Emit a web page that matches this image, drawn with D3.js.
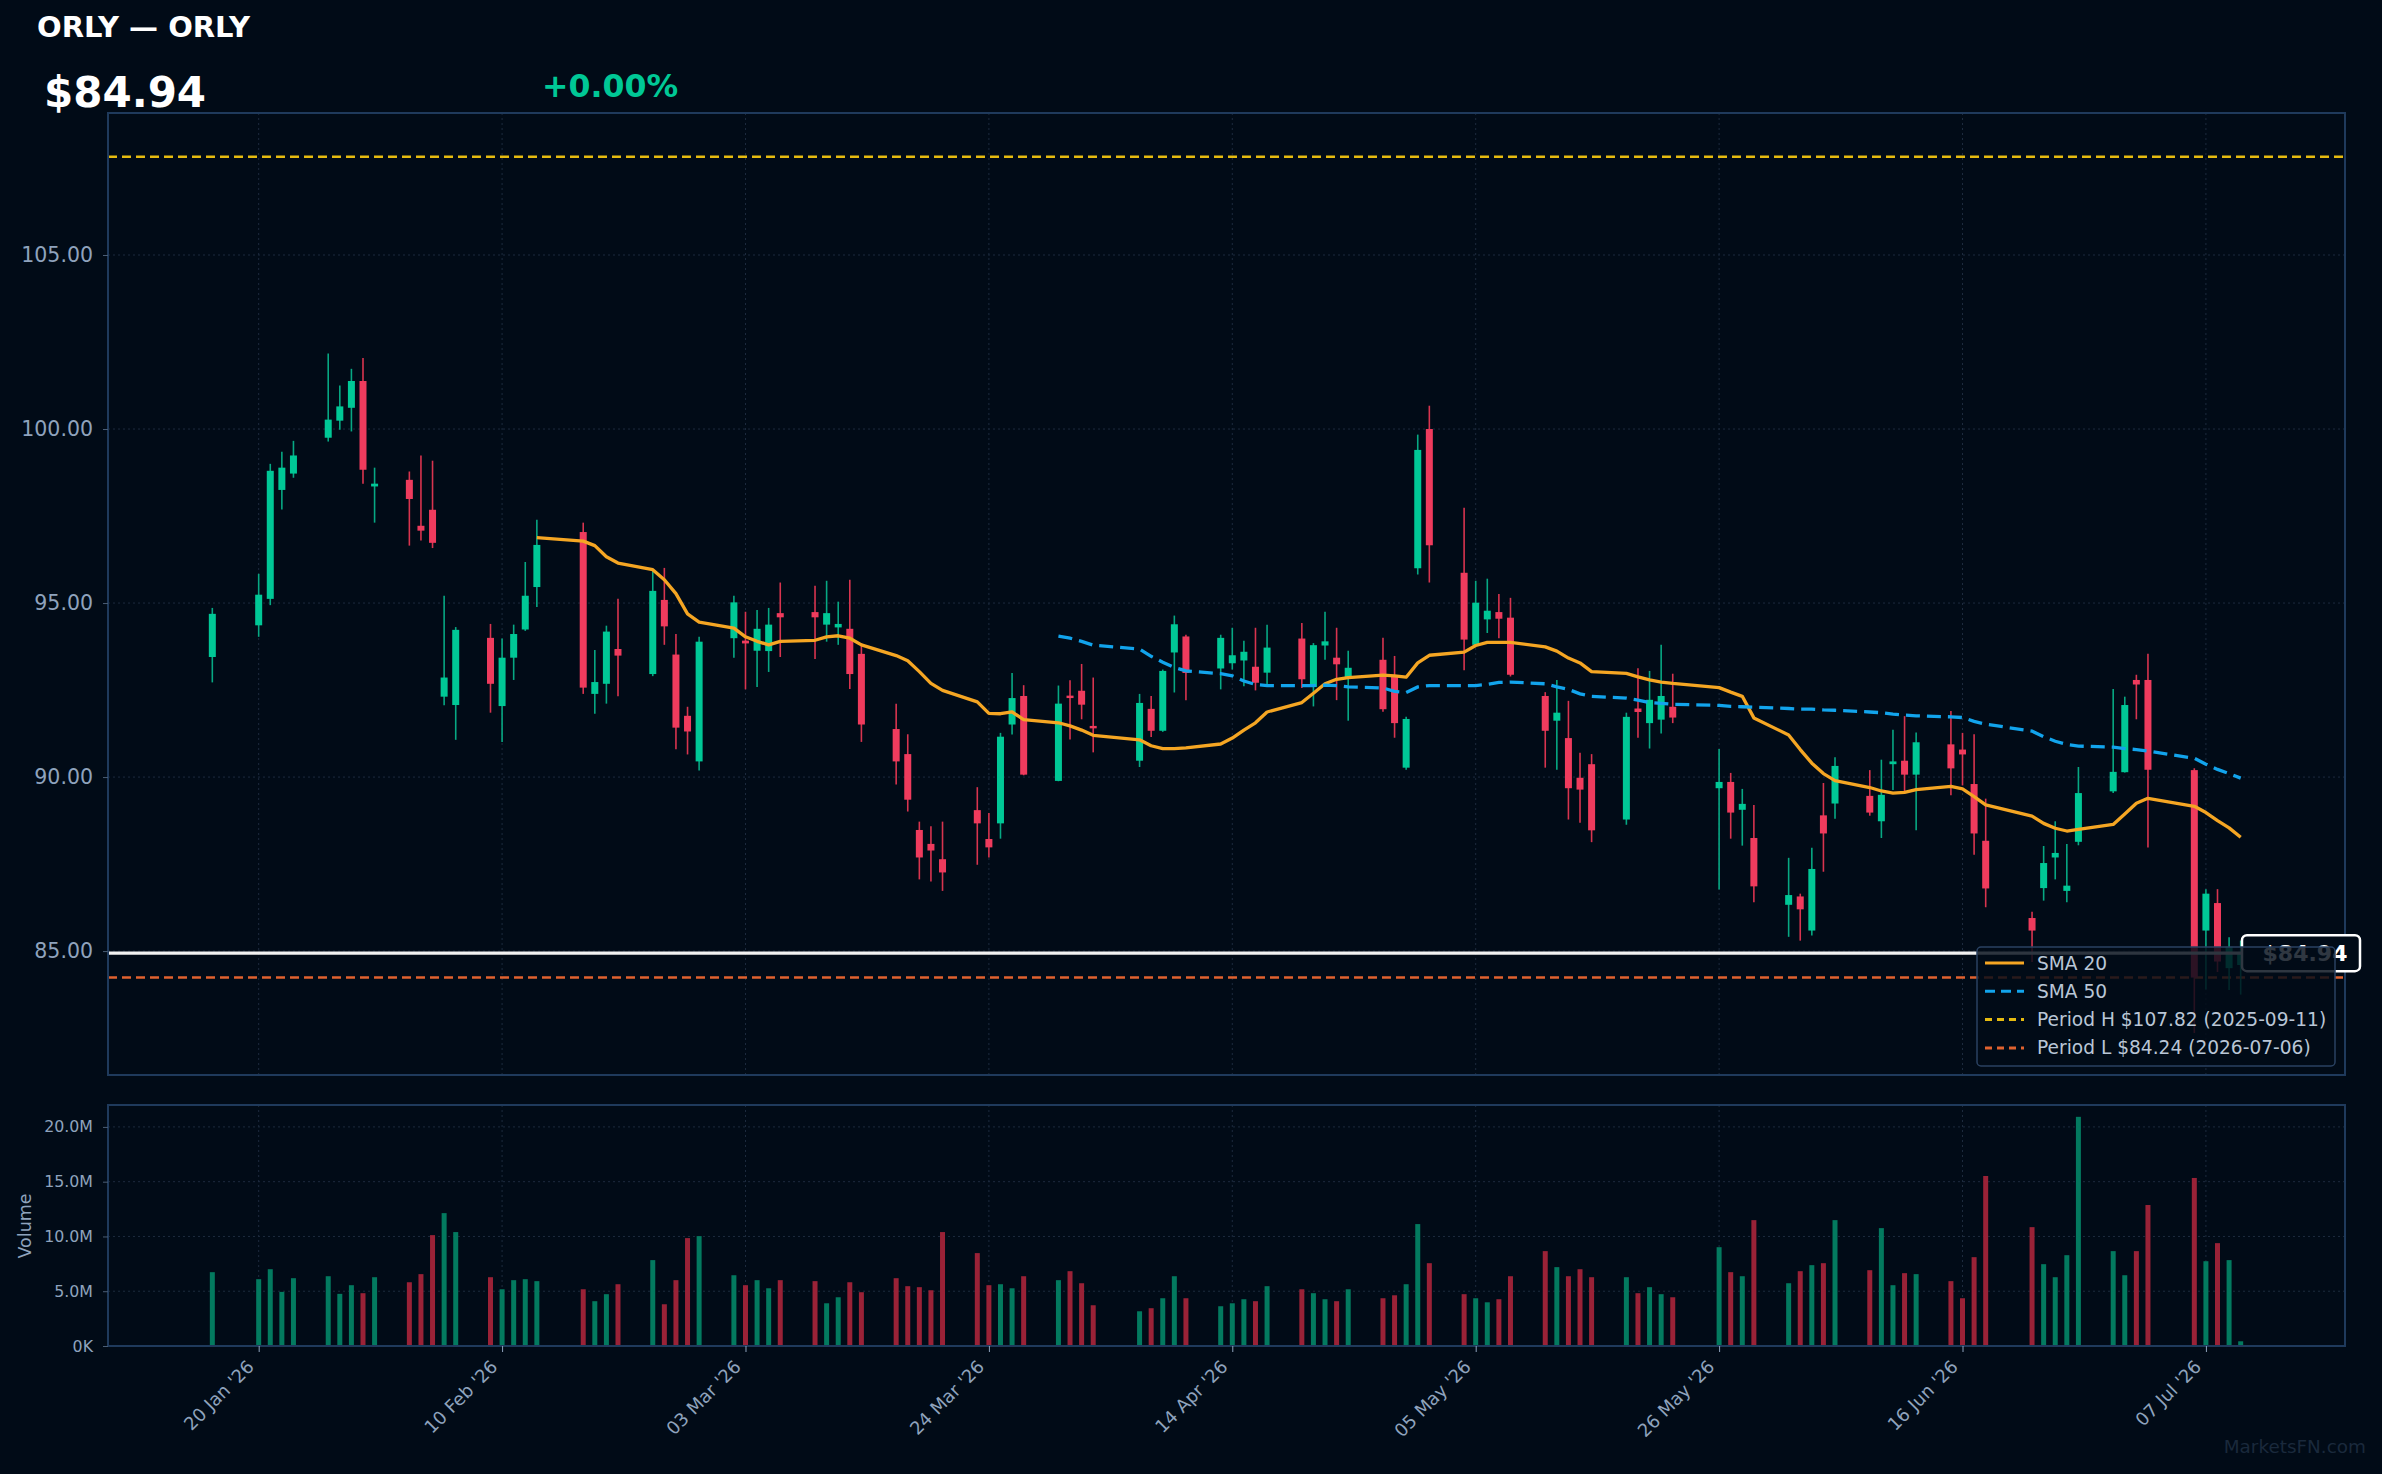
<!DOCTYPE html>
<html>
<head>
<meta charset="utf-8">
<script src="https://cdn.jsdelivr.net/npm/d3@7"></script>
<style>
  html, body { margin: 0; padding: 0; background: #010b17; }
  svg { display: block; font-family: "DejaVu Sans", sans-serif; }
</style>
</head>
<body>
<div class="chart"></div>
<script>
// ORLY daily candles, Jan 16 - Jul 10 2026

var dates = [
  "2026-01-16","2026-01-20","2026-01-21","2026-01-22","2026-01-23","2026-01-26","2026-01-27","2026-01-28","2026-01-29","2026-01-30",
  "2026-02-02","2026-02-03","2026-02-04","2026-02-05","2026-02-06","2026-02-09","2026-02-10","2026-02-11","2026-02-12","2026-02-13",
  "2026-02-17","2026-02-18","2026-02-19","2026-02-20","2026-02-23","2026-02-24","2026-02-25","2026-02-26","2026-02-27",
  "2026-03-02","2026-03-03","2026-03-04","2026-03-05","2026-03-06","2026-03-09","2026-03-10","2026-03-11","2026-03-12","2026-03-13",
  "2026-03-16","2026-03-17","2026-03-18","2026-03-19","2026-03-20","2026-03-23","2026-03-24","2026-03-25","2026-03-26","2026-03-27",
  "2026-03-30","2026-03-31",
  "2026-04-01","2026-04-02","2026-04-06","2026-04-07","2026-04-08","2026-04-09","2026-04-10","2026-04-13","2026-04-14","2026-04-15",
  "2026-04-16","2026-04-17","2026-04-20","2026-04-21","2026-04-22","2026-04-23","2026-04-24","2026-04-27","2026-04-28","2026-04-29","2026-04-30",
  "2026-05-01","2026-05-04","2026-05-05","2026-05-06","2026-05-07","2026-05-08","2026-05-11","2026-05-12","2026-05-13","2026-05-14",
  "2026-05-15","2026-05-18","2026-05-19","2026-05-20","2026-05-21","2026-05-22","2026-05-26","2026-05-27","2026-05-28","2026-05-29",
  "2026-06-01","2026-06-02","2026-06-03","2026-06-04","2026-06-05","2026-06-08","2026-06-09","2026-06-10","2026-06-11","2026-06-12",
  "2026-06-15","2026-06-16","2026-06-17","2026-06-18","2026-06-22","2026-06-23","2026-06-24","2026-06-25","2026-06-26","2026-06-29","2026-06-30",
  "2026-07-01","2026-07-02","2026-07-06","2026-07-07","2026-07-08","2026-07-09","2026-07-10"
];

var opens = [
  93.45, 94.36, 95.12, 98.25, 98.72, 99.75, 100.24, 100.61, 101.38, 98.35,
  98.54, 97.22, 97.68, 92.31, 92.07, 94.00, 92.04, 93.43, 94.24, 95.46, 97.04, 92.39, 92.68, 93.68, 92.96, 95.09, 93.52, 91.76, 90.45,
  93.99, 93.92, 93.63, 93.62, 94.71, 94.74, 94.38, 94.30, 94.26, 93.54, 91.38, 90.66, 88.48, 88.08, 87.64, 89.05, 88.22, 88.67, 91.51, 92.33, 89.89, 92.34,
  92.48, 91.47, 90.47, 91.96, 91.33, 93.58, 94.04, 93.12, 93.27, 93.35, 93.17, 93.00, 93.98, 92.59, 93.78, 93.43, 92.84, 93.37, 92.91, 90.27, 96.00,
  100.00, 95.87, 93.80, 94.53, 94.74, 94.58, 92.33, 91.62, 91.12, 89.98, 90.37, 88.78, 91.97, 91.55, 91.65, 92.02, 89.68, 89.86, 89.06, 88.25,
  86.33, 86.57, 85.59, 88.90, 89.24, 89.46, 88.73, 90.37, 90.47, 90.07, 90.94, 90.79, 89.80, 88.17, 85.95, 86.81, 87.69, 86.73, 88.14, 89.59, 90.14,
  92.79, 92.79, 90.20, 85.59, 86.38, 84.51, 84.60
];

var highs = [
  94.86, 95.84, 99.00, 99.35, 99.66, 102.17, 101.25, 101.73, 102.04, 98.89,
  98.78, 99.24, 99.09, 95.21, 94.31, 94.40, 93.98, 94.38, 96.18, 97.39, 97.31, 93.65, 94.35, 95.12, 95.92, 96.01, 94.11, 92.02, 94.03,
  95.21, 94.75, 94.80, 94.86, 95.59, 95.50, 95.64, 95.04, 95.67, 93.84, 92.11, 91.23, 88.72, 88.59, 88.72, 89.71, 88.97, 91.27, 92.99, 92.64, 92.63, 92.78,
  93.25, 92.86, 92.39, 92.33, 93.09, 94.64, 94.09, 94.09, 94.29, 93.92, 94.29, 94.38, 94.43, 93.85, 94.75, 94.29, 93.63, 94.00, 93.48, 91.73, 99.84,
  100.67, 97.74, 95.64, 95.70, 95.26, 95.15, 92.44, 92.79, 92.19, 90.70, 90.66, 91.85, 93.13, 93.05, 93.80, 92.97, 90.81, 90.12, 89.66, 89.20,
  87.68, 86.65, 87.97, 89.83, 90.57, 90.20, 90.50, 91.36, 91.75, 91.28, 91.90, 91.27, 91.23, 89.38, 86.13, 88.02, 88.73, 88.08, 90.29, 92.53, 92.31,
  92.94, 93.54, 90.25, 86.78, 86.78, 85.40, 85.30
];

var lows = [
  92.72, 94.03, 94.94, 97.69, 98.60, 99.64, 99.98, 99.93, 98.43, 97.31,
  96.65, 96.80, 96.58, 92.06, 91.07, 91.85, 91.01, 92.79, 94.20, 94.89, 92.39, 91.82, 92.11, 92.32, 92.90, 93.80, 90.80, 90.65, 90.19,
  93.43, 92.52, 92.59, 93.02, 93.45, 93.39, 93.89, 93.80, 92.53, 91.01, 89.79, 89.01, 87.06, 87.00, 86.73, 87.48, 87.69, 88.23, 91.22, 90.05, 89.88, 91.08,
  91.66, 90.71, 90.29, 91.15, 91.30, 92.43, 92.21, 92.52, 93.09, 92.61, 92.49, 92.66, 92.56, 92.03, 93.37, 92.21, 91.62, 91.88, 91.13, 90.21, 95.82,
  95.59, 93.07, 93.78, 94.14, 93.99, 92.89, 90.27, 90.21, 88.78, 88.69, 88.13, 88.63, 91.13, 90.82, 91.25, 91.55, 86.77, 88.23, 88.03, 86.40,
  85.41, 85.30, 85.45, 87.28, 88.80, 88.89, 88.25, 89.63, 89.60, 88.47, 89.48, 89.76, 87.77, 86.26, 84.69, 86.45, 87.06, 86.40, 88.04, 89.54, 90.13,
  91.66, 87.98, 82.65, 83.90, 84.40, 83.88, 83.75
];

var closes = [
  94.69, 95.24, 98.80, 98.89, 99.24, 100.27, 100.65, 101.38, 98.83, 98.43,
  97.99, 97.08, 96.73, 92.86, 94.23, 92.68, 93.43, 94.11, 95.21, 96.67, 92.57, 92.73, 94.18, 93.49, 95.35, 94.33, 91.42, 91.31, 93.89,
  95.02, 93.84, 94.26, 94.38, 94.59, 94.59, 94.71, 94.40, 92.96, 91.51, 90.45, 89.35, 87.69, 87.89, 87.26, 88.67, 87.98, 91.16, 92.27, 90.07, 92.11, 92.27,
  92.08, 91.40, 92.13, 91.33, 93.05, 94.39, 92.99, 94.00, 93.50, 93.60, 92.71, 93.72, 92.81, 93.79, 93.90, 93.24, 93.14, 91.95, 91.55, 91.67, 99.40,
  96.66, 93.95, 95.01, 94.78, 94.55, 92.94, 91.33, 91.85, 89.68, 89.64, 88.47, 91.73, 91.87, 92.22, 92.33, 91.71, 89.86, 88.98, 89.23, 86.86,
  86.61, 86.20, 87.36, 88.38, 90.32, 88.98, 89.49, 90.45, 90.07, 91.00, 90.25, 90.65, 88.38, 86.80, 85.59, 87.53, 87.82, 86.88, 89.54, 90.15, 92.07,
  92.66, 90.21, 84.24, 86.65, 84.70, 85.12, 84.94
];

// volume in millions of shares
var volumes = [
  6.74, 6.10, 7.01, 4.94, 6.19, 6.37, 4.76, 5.55, 4.82, 6.28,
  5.82, 6.56, 10.12, 12.13, 10.40, 6.28, 5.18, 6.01, 6.10, 5.92, 5.18, 4.09, 4.73, 5.64, 7.84, 3.81, 6.01, 9.85, 10.03,
  6.46, 5.55, 6.01, 5.27, 6.01, 5.92, 3.90, 4.45, 5.82, 4.91, 6.19, 5.46, 5.37, 5.09, 10.40, 8.48, 5.55, 5.64, 5.27, 6.37, 6.01, 6.83,
  5.73, 3.72, 3.17, 3.45, 4.36, 6.37, 4.36, 3.63, 3.90, 4.27, 4.09, 5.46, 5.18, 4.82, 4.27, 4.09, 5.18, 4.36, 4.63, 5.64, 11.13,
  7.56, 4.73, 4.36, 3.99, 4.27, 6.37, 8.66, 7.20, 6.37, 7.01, 6.28, 6.28, 4.82, 5.37, 4.73, 4.45, 9.02, 6.74, 6.37, 11.49,
  5.73, 6.83, 7.38, 7.56, 11.49, 6.92, 10.76, 5.55, 6.65, 6.56, 5.92, 4.36, 8.11, 15.52, 10.85, 7.47, 6.28, 8.29, 20.92, 8.66, 6.46,
  8.66, 12.87, 15.34, 7.74, 9.39, 7.84, 0.43
];

// moving averages as plotted (first value on Feb 13 / Mar 30)
var sma20 = [
  96.88, 96.78, 96.65, 96.33, 96.15, 95.96, 95.67, 95.27, 94.69, 94.45,
  94.28, 94.03, 93.90, 93.80, 93.90, 93.93, 94.03, 94.06, 93.99, 93.80, 93.49, 93.34, 93.03, 92.69, 92.49, 92.16, 91.83, 91.82, 91.87, 91.65, 91.56, 91.47,
  91.35, 91.20, 91.07, 90.90, 90.82, 90.82, 90.84, 90.95, 91.12, 91.35, 91.56, 91.87, 92.14, 92.41, 92.68, 92.81, 92.86, 92.93, 92.91, 92.87, 93.28,
  93.50, 93.59, 93.78, 93.87, 93.87, 93.87, 93.74, 93.62, 93.42, 93.28, 93.03, 92.98, 92.88, 92.79, 92.73, 92.69, 92.57, 92.44, 92.32, 91.70,
  91.21, 90.79, 90.40, 90.10, 89.90, 89.70, 89.60, 89.54, 89.56, 89.64, 89.73, 89.66, 89.44, 89.20, 88.88, 88.67, 88.53, 88.45, 88.50, 88.64, 88.94,
  89.25, 89.39, 89.16, 88.98, 88.75, 88.54, 88.27
];

var sma50 = [
  94.05, 93.99,
  93.90, 93.79, 93.68, 93.47, 93.30, 93.15, 93.05, 92.97, 92.91, 92.76, 92.66, 92.63, 92.63, 92.63, 92.64, 92.63, 92.59, 92.56, 92.46, 92.43, 92.59,
  92.63, 92.63, 92.63, 92.66, 92.72, 92.73, 92.68, 92.59, 92.52, 92.39, 92.32, 92.27, 92.21, 92.14, 92.12, 92.09, 92.06, 92.03, 92.02, 92.01,
  91.97, 91.95, 91.95, 91.93, 91.92, 91.87, 91.85, 91.81, 91.78, 91.76, 91.73, 91.71, 91.60, 91.52, 91.32, 91.16, 91.03, 90.94, 90.89, 90.86, 90.82,
  90.79, 90.75, 90.54, 90.37, 90.22, 90.10, 89.97
];

var yTicks = [85, 90, 95, 100, 105];
var volTicks = [0, 5, 10, 15, 20];
var xTicks = ["2026-01-20","2026-02-10","2026-03-03","2026-03-24","2026-04-14","2026-05-05","2026-05-26","2026-06-16","2026-07-07"];

var lastPrice = 84.94;
var periodHigh = 107.82;
var periodLow = 84.24;

var settings = {
  w: 2382,
  h: 1474,
  left: 108,
  right: 2345,
  top: 113,
  bottom: 1075,
  vTop: 1105,
  vBottom: 1346,
  bg: '#010b17',
  up: '#00c896',
  down: '#ef3b5d',
  grid: '#1d2b3e',
  border: '#1f3a5c',
  tick: '#8fa3bd'
};

var parseDate = d3.utcParse('%Y-%m-%d');

var candles = dates.map(function(d, i) {
  return {date: parseDate(d), open: opens[i], high: highs[i], low: lows[i], close: closes[i], vol: volumes[i]};
});

var sma20Pts = sma20.map(function(v, i) { return {date: candles[candles.length - sma20.length + i].date, v: v}; });
var sma50Pts = sma50.map(function(v, i) { return {date: candles[candles.length - sma50.length + i].date, v: v}; });

var x = d3.scaleUtc()
  .domain([new Date(Date.UTC(2026, 0, 7)), new Date(Date.UTC(2026, 6, 19))])
  .range([settings.left, settings.right]);

var y = d3.scaleLinear().domain([81.44, 109.08]).range([settings.bottom, settings.top]);
var yv = d3.scaleLinear().domain([0, 22]).range([settings.vBottom, settings.vTop]);

var board = d3.select('.chart')
  .append('svg')
  .attr('width', settings.w)
  .attr('height', settings.h);

board.append('rect').attr('width', settings.w).attr('height', settings.h).attr('fill', settings.bg);

// header
board.append('text').attr('x', 37).attr('y', 37)
  .attr('fill', '#ffffff').attr('font-weight', 'bold').attr('font-size', 29)
  .text('ORLY — ORLY');
board.append('text').attr('x', 44).attr('y', 107)
  .attr('fill', '#ffffff').attr('font-weight', 'bold').attr('font-size', 42)
  .text('$' + lastPrice.toFixed(2));
board.append('text').attr('x', 542).attr('y', 97)
  .attr('fill', settings.up).attr('font-weight', 'bold').attr('font-size', 31.6)
  .text('+0.00%');

var xTickDates = xTicks.map(parseDate);

// grids
var grid = board.append('g').attr('stroke', settings.grid).attr('stroke-width', 1).attr('stroke-dasharray', '2,3');
grid.selectAll('.hy').data(yTicks).enter().append('line')
  .attr('x1', settings.left).attr('x2', settings.right)
  .attr('y1', function(d) { return y(d); }).attr('y2', function(d) { return y(d); });
grid.selectAll('.hv').data(volTicks).enter().append('line')
  .attr('x1', settings.left).attr('x2', settings.right)
  .attr('y1', function(d) { return yv(d); }).attr('y2', function(d) { return yv(d); });
grid.selectAll('.vx').data(xTickDates).enter().append('line')
  .attr('x1', function(d) { return x(d); }).attr('x2', function(d) { return x(d); })
  .attr('y1', settings.top).attr('y2', settings.bottom);
grid.selectAll('.vxv').data(xTickDates).enter().append('line')
  .attr('x1', function(d) { return x(d); }).attr('x2', function(d) { return x(d); })
  .attr('y1', settings.vTop).attr('y2', settings.vBottom);

// period high / low
board.append('line')
  .attr('x1', settings.left).attr('x2', settings.right)
  .attr('y1', y(periodHigh)).attr('y2', y(periodHigh))
  .attr('stroke', '#e6bb10').attr('stroke-width', 2.5).attr('stroke-dasharray', '9,5');
board.append('line')
  .attr('x1', settings.left).attr('x2', settings.right)
  .attr('y1', y(periodLow)).attr('y2', y(periodLow))
  .attr('stroke', '#e0622f').attr('stroke-width', 2.5).attr('stroke-dasharray', '9,5');

// candles
var cg = board.append('g');
cg.selectAll('.wick').data(candles).enter().append('line')
  .attr('x1', function(d) { return x(d.date); })
  .attr('x2', function(d) { return x(d.date); })
  .attr('y1', function(d) { return y(d.high); })
  .attr('y2', function(d) { return y(d.low); })
  .attr('stroke', function(d) { return d.close >= d.open ? '#07a883' : '#d8344f'; })
  .attr('stroke-width', 1.6);

cg.selectAll('.body').data(candles).enter().append('rect')
  .attr('x', function(d) { return x(d.date) - 3.5; })
  .attr('width', 7)
  .attr('y', function(d) { return y(Math.max(d.open, d.close)); })
  .attr('height', function(d) { return Math.max(2, Math.abs(y(d.open) - y(d.close))); })
  .attr('fill', function(d) { return d.close >= d.open ? settings.up : settings.down; });

// moving averages
var line = d3.line()
  .x(function(d) { return x(d.date); })
  .y(function(d) { return y(d.v); });

board.append('path').datum(sma20Pts)
  .attr('d', line).attr('fill', 'none')
  .attr('stroke', '#f5a623').attr('stroke-width', 3.3).attr('stroke-linejoin', 'round');
board.append('path').datum(sma50Pts)
  .attr('d', line).attr('fill', 'none')
  .attr('stroke', '#12a4ec').attr('stroke-width', 3.3).attr('stroke-dasharray', '14,7');

// last price line
board.append('line')
  .attr('x1', settings.left).attr('x2', 2242)
  .attr('y1', y(lastPrice)).attr('y2', y(lastPrice))
  .attr('stroke', '#f2f2f2').attr('stroke-width', 3.2);

// volume bars
board.selectAll('.vol').data(candles).enter().append('rect')
  .attr('x', function(d) { return x(d.date) - 2.5; })
  .attr('width', 5)
  .attr('y', function(d) { return yv(d.vol); })
  .attr('height', function(d) { return yv(0) - yv(d.vol); })
  .attr('fill', function(d) { return d.close >= d.open ? '#037a5f' : '#9a2237'; });

// panel frames
board.append('rect')
  .attr('x', settings.left).attr('y', settings.top)
  .attr('width', settings.right - settings.left).attr('height', settings.bottom - settings.top)
  .attr('fill', 'none').attr('stroke', settings.border).attr('stroke-width', 2);
board.append('rect')
  .attr('x', settings.left).attr('y', settings.vTop)
  .attr('width', settings.right - settings.left).attr('height', settings.vBottom - settings.vTop)
  .attr('fill', 'none').attr('stroke', settings.border).attr('stroke-width', 2);

// axes
var styleAxis = function(g, size) {
  g.select('.domain').remove();
  g.selectAll('.tick line').attr('stroke', '#4b5e76');
  g.selectAll('.tick text').attr('fill', settings.tick).attr('font-size', size)
    .attr('font-family', '"DejaVu Sans", sans-serif');
};

board.append('g')
  .attr('transform', 'translate(' + settings.left + ',0)')
  .call(d3.axisLeft(y).tickValues(yTicks).tickFormat(d3.format('.2f')).tickSize(5).tickPadding(10))
  .call(styleAxis, 20.5);

board.append('g')
  .attr('transform', 'translate(' + settings.left + ',0)')
  .call(d3.axisLeft(yv).tickValues(volTicks)
    .tickFormat(function(d) { return d === 0 ? '0K' : d.toFixed(1) + 'M'; })
    .tickSize(5).tickPadding(10))
  .call(styleAxis, 15.8);

var xAxis = board.append('g')
  .attr('transform', 'translate(0,' + settings.vBottom + ')')
  .call(d3.axisBottom(x).tickValues(xTickDates).tickFormat(d3.utcFormat("%d %b '%y")).tickSize(6))
  .call(styleAxis, 18);
xAxis.selectAll('.tick line').attr('stroke', settings.tick);
xAxis.selectAll('.tick text')
  .attr('x', 0).attr('y', 0).attr('dy', 0)
  .attr('text-anchor', 'end')
  .attr('transform', 'translate(-4,22) rotate(-45)');

board.append('text')
  .attr('transform', 'translate(31,1226) rotate(-90)')
  .attr('text-anchor', 'middle')
  .attr('fill', settings.tick).attr('font-size', 17.5)
  .text('Volume');

// price tag at right
var tagY = y(lastPrice);
board.append('rect')
  .attr('x', 2242).attr('y', tagY - 18).attr('width', 118).attr('height', 36)
  .attr('rx', 5).attr('fill', settings.bg)
  .attr('stroke', '#ffffff').attr('stroke-width', 2.5);
board.append('text')
  .attr('x', 2305).attr('y', tagY).attr('dy', '0.36em')
  .attr('text-anchor', 'middle').attr('fill', '#ffffff')
  .attr('font-weight', 'bold').attr('font-size', 22)
  .text('$' + lastPrice.toFixed(2));

// legend
var legendItems = [
  {label: 'SMA 20', color: '#f5a623', dash: null},
  {label: 'SMA 50', color: '#12a4ec', dash: '10,6'},
  {label: 'Period H $' + periodHigh.toFixed(2) + ' (2025-09-11)', color: '#e6bb10', dash: '7,5'},
  {label: 'Period L $' + periodLow.toFixed(2) + ' (2026-07-06)', color: '#e0622f', dash: '7,5'}
];

var legend = board.append('g').attr('transform', 'translate(1977,947)');
legend.append('rect')
  .attr('width', 358).attr('height', 119).attr('rx', 4)
  .attr('fill', settings.bg).attr('fill-opacity', 0.82)
  .attr('stroke', '#2a4262').attr('stroke-width', 1.5);

var rows = legend.selectAll('.row').data(legendItems).enter().append('g')
  .attr('transform', function(d, i) { return 'translate(0,' + (16 + i * 28.3) + ')'; });
rows.append('line')
  .attr('x1', 8).attr('x2', 47).attr('y1', 0).attr('y2', 0)
  .attr('stroke', function(d) { return d.color; }).attr('stroke-width', 3)
  .attr('stroke-dasharray', function(d) { return d.dash; });
rows.append('text')
  .attr('x', 60).attr('y', 0).attr('dy', '0.35em')
  .attr('fill', '#b9c6d6').attr('font-size', 18.6)
  .text(function(d) { return d.label; });

// watermark
board.append('text')
  .attr('x', 2366).attr('y', 1453).attr('text-anchor', 'end')
  .attr('fill', '#1a293c').attr('font-size', 18.4)
  .text('MarketsFN.com');
</script>
</body>
</html>
